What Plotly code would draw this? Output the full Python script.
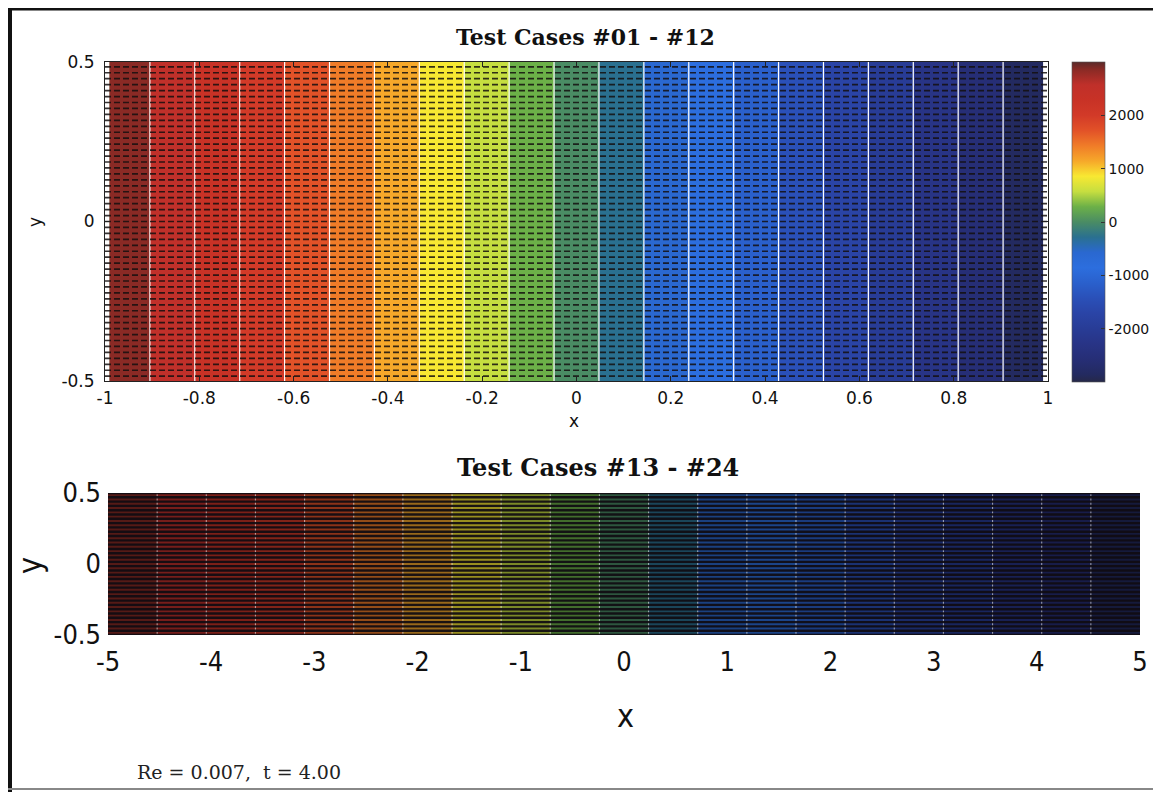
import numpy as np
import plotly.graph_objects as go

# page body has an 8px margin: the figure is sized so that it ends at the window edge
OFF = 8
W, H = 1161 - OFF, 792 - OFF

# ---------------- data ----------------
field_y = [-0.5, 0.5]
top_field_x = [-0.99, 0.99]
top_field_p = [2970, -2970]
bot_field_x = [-5.0, 5.0]
bot_field_p = [3000, -3000]
p_min, p_max = -3000, 3000
n_bands = 21
# band colours from left (high pressure) to right (low pressure)
band_colors = [
    "#8a2a25", "#c0302a", "#c83226", "#d23a28", "#e25228", "#f07c28", "#f6a82a",
    "#f8e832", "#c6de40", "#6cb048", "#4a8c64", "#2a7090", "#2a68d0", "#2c6ede",
    "#2a60cc", "#2a50b8", "#2a44a6", "#283c96", "#283486", "#262e76", "#232a60",
]
cbar_ticks = [-2000, -1000, 0, 1000, 2000]
cbar_ticktext = ["-2000", "-1000", "0", "1000", "2000"]
top_xticks = [-1, -0.8, -0.6, -0.4, -0.2, 0, 0.2, 0.4, 0.6, 0.8, 1]
top_xticktext = ["-1", "-0.8", "-0.6", "-0.4", "-0.2", "0", "0.2", "0.4", "0.6", "0.8", "1"]
top_yticks = [-0.5, 0, 0.5]
top_yticktext = ["-0.5", "0", "0.5"]
bot_xticks = [-5, -4, -3, -2, -1, 0, 1, 2, 3, 4, 5]
bot_xticktext = ["-5", "-4", "-3", "-2", "-1", "0", "1", "2", "3", "4", "5"]
bot_yticks = [-0.5, 0, 0.5]
bot_yticktext = ["-0.5", "0", "0.5"]
title_top = "Test Cases #01 - #12"
title_bot = "Test Cases #13 - #24"
note_text = "Re = 0.007,  t = 4.00"
n_rows_top = 53      # quiver rows in the upper panel
n_rows_bot = 34      # stripe rows in the lower panel

# ---------------- helpers (screen pixel -> paper fraction) ----------------
def px(x):
    return (x - OFF) / W

def py(y):
    return 1 - (y - OFF) / H

def shade(hexc, f):
    r, g, b = int(hexc[1:3], 16), int(hexc[3:5], 16), int(hexc[5:7], 16)
    return "rgb(%d,%d,%d)" % (r * f, g * f, b * f)

size = (p_max - p_min) / n_bands
levels = dict(start=p_min + size, end=p_max - size, size=size,
              coloring="fill", showlines=True)
low_to_high = list(reversed(band_colors))
fill_scale = [[i / (n_bands - 1), c] for i, c in enumerate(low_to_high)]
fill_scale_dark = [[i / (n_bands - 1), shade(c, 0.62)] for i, c in enumerate(low_to_high)]
cbar_scale = [[0.0, "#262848"]] + \
    [[(i + 0.5) / n_bands, c] for i, c in enumerate(low_to_high)] + \
    [[1.0, "#5a2a2a"]]

fig = go.Figure()

# upper panel: filled contour
fig.add_trace(go.Contour(
    x=top_field_x, y=field_y, z=[top_field_p, top_field_p],
    autocontour=False, contours=levels, colorscale=fill_scale,
    line=dict(color="white", width=1.2), showscale=False,
    xaxis="x", yaxis="y", hoverinfo="skip"))

# upper panel: quiver dashes
ry = np.linspace(-0.485, 0.485, n_rows_top)
qx, qy = [], []
for yy in ry:
    qx += [-1, 1, None]
    qy += [yy, yy, None]
fig.add_trace(go.Scatter(x=qx, y=qy, mode="lines",
                         line=dict(color="rgba(20,15,15,0.85)", width=1.7, dash="6px,3px"),
                         xaxis="x", yaxis="y", hoverinfo="skip", showlegend=False))

# colorbar (continuous)
fig.add_trace(go.Scatter(
    x=[0], y=[0], mode="markers", xaxis="x", yaxis="y", hoverinfo="skip", showlegend=False,
    marker=dict(size=1, opacity=0, color=[0], colorscale=cbar_scale, cmin=p_min, cmax=p_max,
                showscale=True,
                colorbar=dict(x=px(1072), xanchor="left", y=py(222), yanchor="middle",
                              lenmode="pixels", len=320, thickness=33, xpad=0, ypad=0,
                              outlinewidth=0.6, outlinecolor="#555",
                              tickvals=cbar_ticks, ticktext=cbar_ticktext,
                              ticks="inside", ticklen=4, tickcolor="#333",
                              tickfont=dict(family="DejaVu Sans", size=14, color="#111")))))

# lower panel: filled contour (dark)
fig.add_trace(go.Contour(
    x=bot_field_x, y=field_y, z=[bot_field_p, bot_field_p],
    autocontour=False, contours=levels, colorscale=fill_scale_dark,
    line=dict(color="rgba(255,255,255,0.55)", width=1.1), showscale=False,
    xaxis="x2", yaxis="y2", hoverinfo="skip"))

# lower panel: dark stripes
rb = np.linspace(-0.5, 0.5, n_rows_bot)
sx, sy = [], []
for yy in rb:
    sx += [-5, 5, None]
    sy += [yy, yy, None]
fig.add_trace(go.Scatter(x=sx, y=sy, mode="lines",
                         line=dict(color="rgba(16,12,18,0.93)", width=2.4),
                         xaxis="x2", yaxis="y2", hoverinfo="skip", showlegend=False))

small = dict(family="DejaVu Sans", size=17, color="#111")
narrow = "DejaVu Sans Condensed, Liberation Sans Narrow, Arial Narrow, Liberation Sans"
big = dict(family=narrow, size=27, color="#111")

fig.update_layout(
    width=W, height=H, margin=dict(l=0, r=0, t=0, b=0, autoexpand=False),
    paper_bgcolor="white", plot_bgcolor="white", showlegend=False,
    xaxis=dict(domain=[px(105), px(1048)], range=[-1, 1], anchor="y", automargin=False,
               tickvals=top_xticks, ticktext=top_xticktext, tickfont=small,
               showline=True, linecolor="#222", linewidth=1, mirror="allticks",
               ticks="inside", ticklen=5, tickcolor="#222", showgrid=False, zeroline=False,
               ticklabelstandoff=2),
    yaxis=dict(domain=[py(381), py(62)], range=[-0.5, 0.5], anchor="x", automargin=False,
               tickvals=top_yticks, ticktext=top_yticktext, tickfont=small,
               showline=True, linecolor="#222", linewidth=1, mirror="allticks",
               ticks="inside", ticklen=5, tickcolor="#222", showgrid=False, zeroline=False,
               ticklabelstandoff=6),
    xaxis2=dict(domain=[px(108), px(1140)], range=[-5, 5], anchor="y2", automargin=False,
                tickvals=bot_xticks, ticktext=bot_xticktext, tickfont=big,
                showline=False, ticks="", showgrid=False, zeroline=False,
                ticklabelstandoff=8),
    yaxis2=dict(domain=[py(635), py(493)], range=[-0.5, 0.5], anchor="x2", automargin=False,
                tickvals=bot_yticks, ticktext=bot_yticktext, tickfont=big,
                showline=False, ticks="", showgrid=False, zeroline=False,
                ticklabelstandoff=6),
)

serif_b = "DejaVu Serif"
ann = [
    dict(text="<b>%s</b>" % title_top, x=px(585), y=py(37), font=dict(family=serif_b, size=22, color="#111")),
    dict(text="<b>%s</b>" % title_bot, x=px(598), y=py(467), font=dict(family=serif_b, size=24, color="#111")),
    dict(text="x", x=px(574), y=py(421), font=dict(family="DejaVu Sans", size=17, color="#111")),
    dict(text="y", x=px(35), y=py(222), textangle=-90, font=dict(family="DejaVu Sans", size=17, color="#111")),
    dict(text="x", x=px(625), y=py(716), font=dict(family=narrow, size=32, color="#111")),
    dict(text="y", x=px(30), y=py(566), textangle=-90, font=dict(family=narrow, size=32, color="#111")),
    dict(text=note_text, x=px(135), y=py(772), xanchor="left", font=dict(family="DejaVu Serif", size=19, color="#222")),
]
for a in ann:
    a.setdefault("xanchor", "center")
    a.update(xref="paper", yref="paper", yanchor="middle", showarrow=False)
fig.update_layout(annotations=ann)

# outer frame
fig.update_layout(shapes=[
    dict(type="line", xref="paper", yref="paper", x0=px(10), x1=px(10), y0=py(8), y1=py(792),
         line=dict(color="#111", width=4)),
    dict(type="line", xref="paper", yref="paper", x0=px(8), x1=px(1161), y0=py(9), y1=py(9),
         line=dict(color="#111", width=3)),
    dict(type="line", xref="paper", yref="paper", x0=px(1157), x1=px(1157), y0=py(8), y1=py(792),
         line=dict(color="#888", width=2)),
    dict(type="line", xref="paper", yref="paper", x0=px(8), x1=px(1161), y0=py(789), y1=py(789),
         line=dict(color="#888", width=2)),
])

fig.write_html("out.html")
